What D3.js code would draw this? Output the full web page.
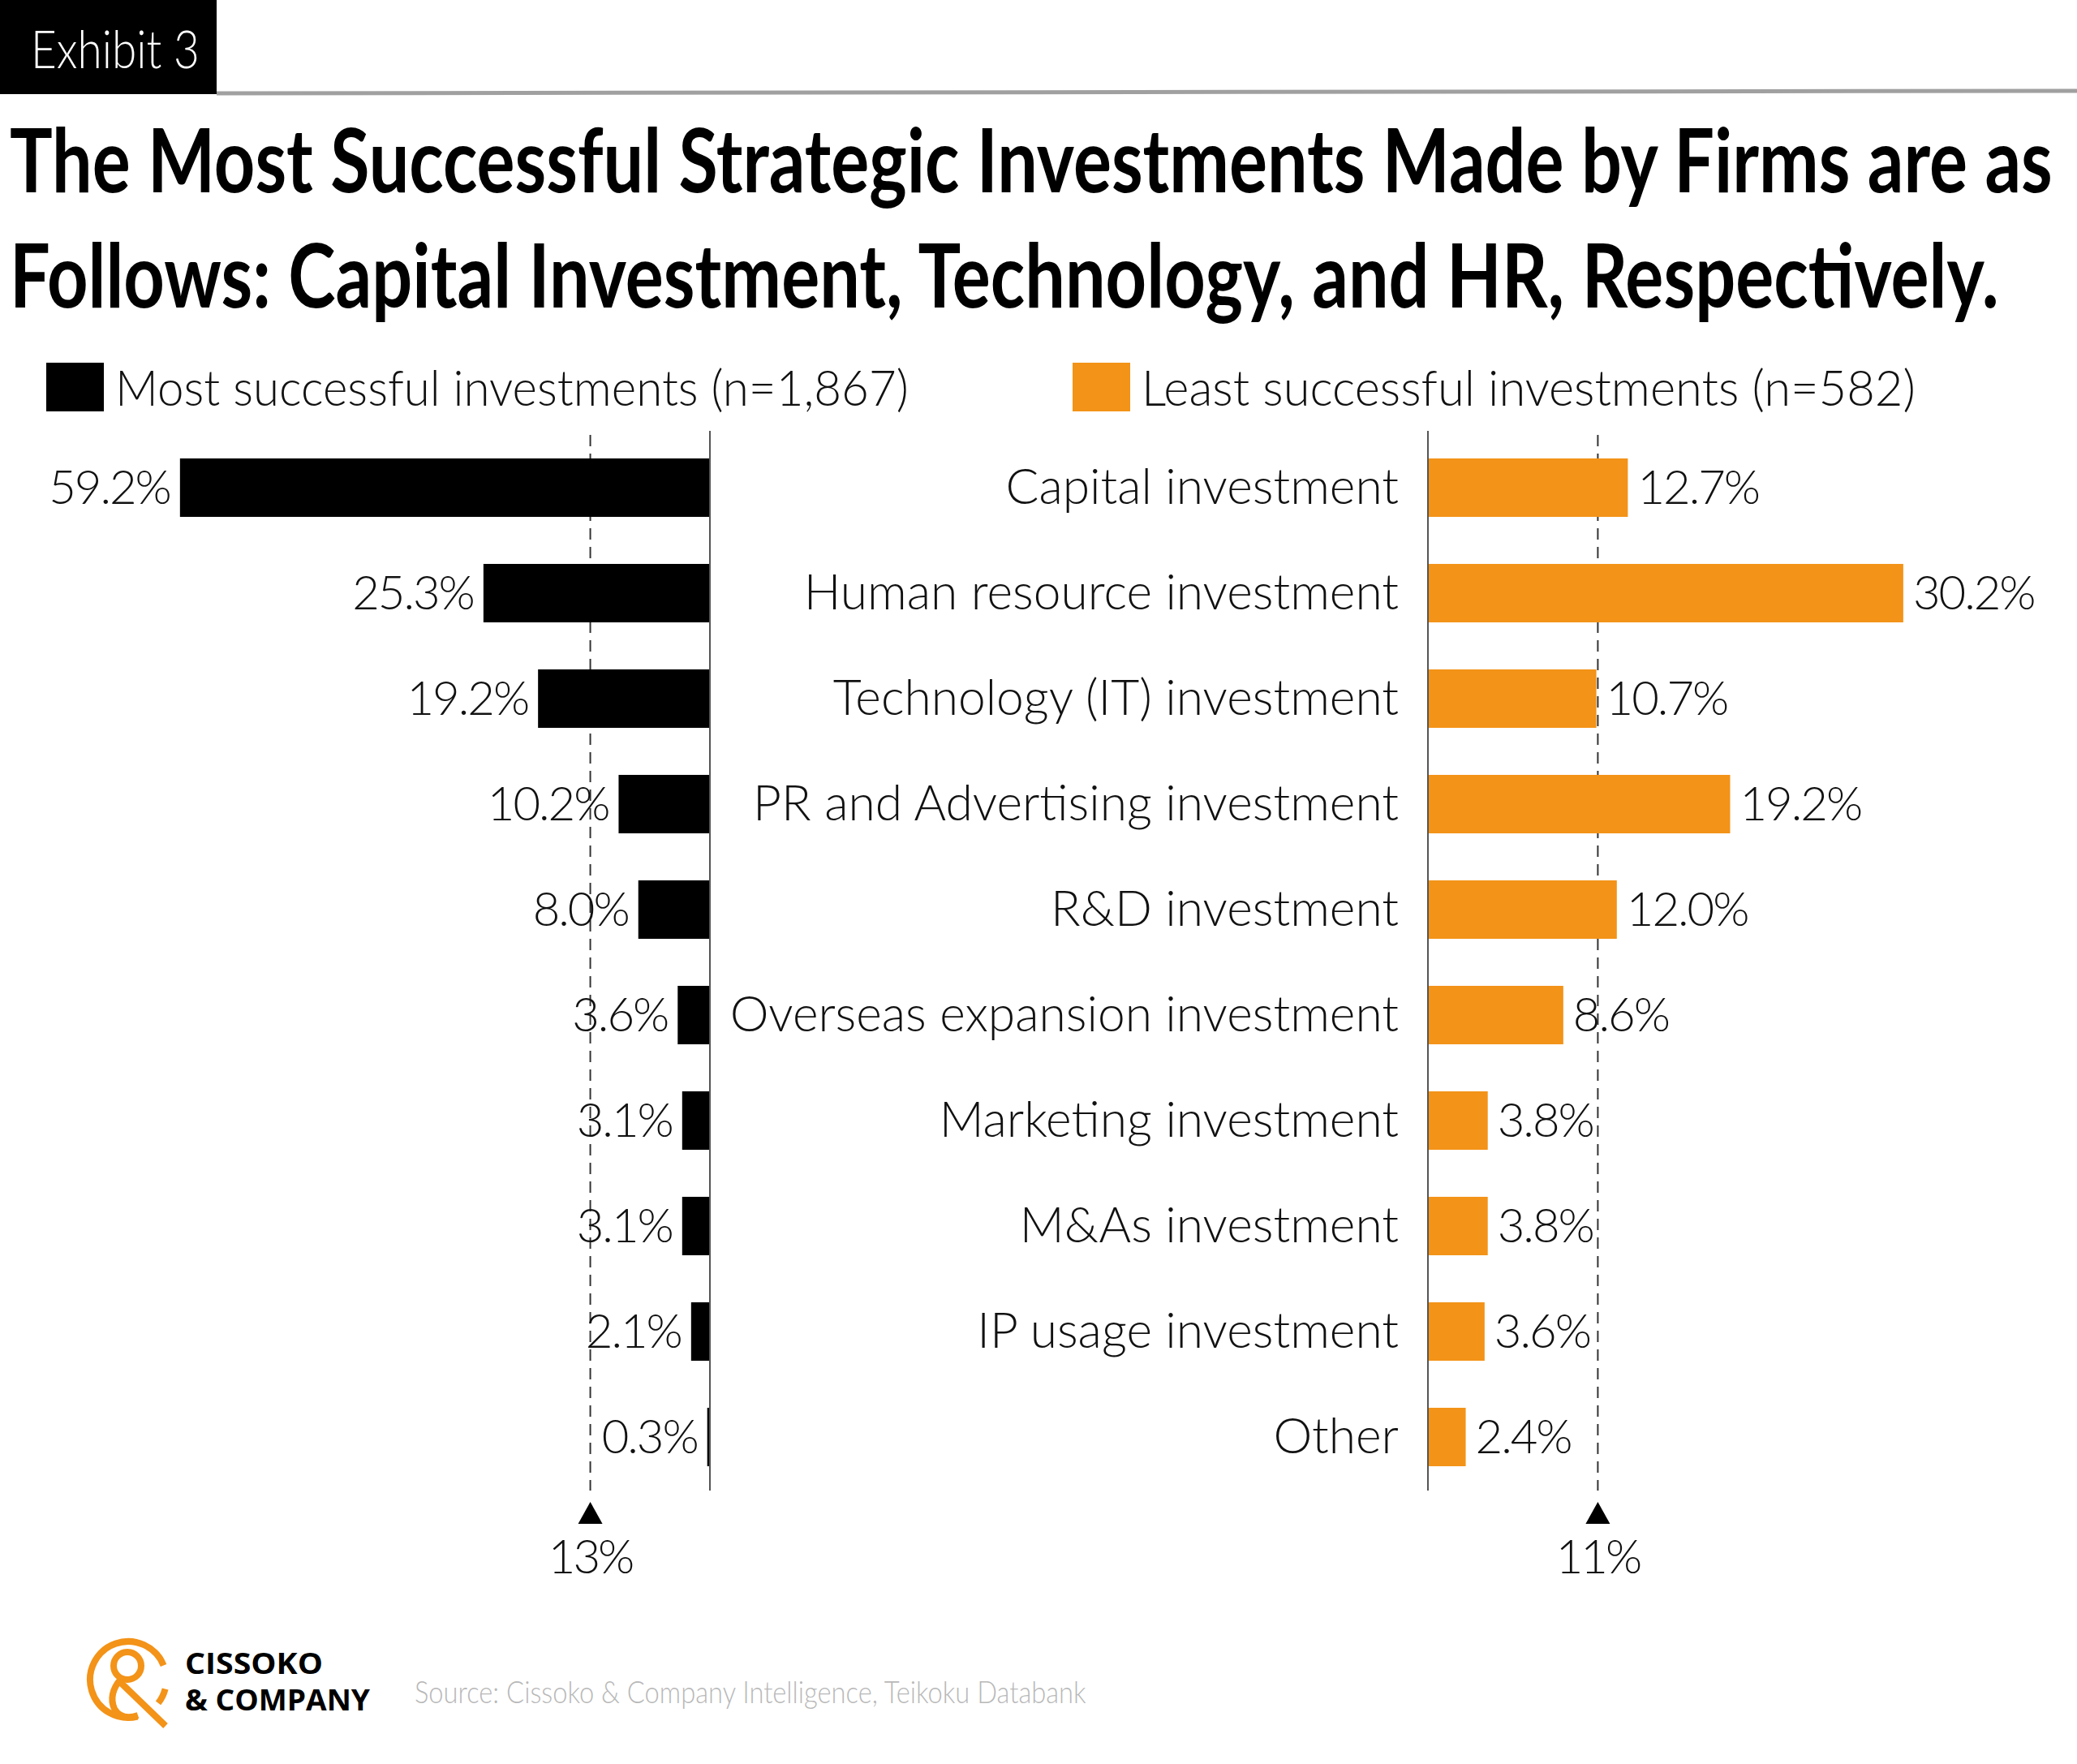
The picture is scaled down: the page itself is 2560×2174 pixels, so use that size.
<!DOCTYPE html>
<html>
<head>
<meta charset="utf-8">
<script src="https://cdn.jsdelivr.net/npm/d3@7"></script>
<style>
  html, body { margin: 0; padding: 0; background: #fff; }
  svg { display: block; }
</style>
</head>
<body>
<div id="chart"></div>
<script>
var w = 2560, h = 2174;

var categories = ["Capital investment", "Human resource investment", "Technology (IT) investment",
    "PR and Advertising investment", "R&D investment", "Overseas expansion investment",
    "Marketing investment", "M&As investment", "IP usage investment", "Other"];
var mostValues = [59.2, 25.3, 19.2, 10.2, 8.0, 3.6, 3.1, 3.1, 2.1, 0.3];
var leastValues = [12.7, 30.2, 10.7, 19.2, 12.0, 8.6, 3.8, 3.8, 3.6, 2.4];
var averages = [13, 11];
var seriesNames = ["Most successful investments (n=1,867)", "Least successful investments (n=582)"];

var orange = "#F39318";
var light = "Lato, 'Open Sans', sans-serif";

var svg = d3.select("#chart").append("svg").attr("width", w).attr("height", h);

// squeeze a text horizontally to a given width, anchored at x
function fitWidth(t, x, width) {
    var natural = t.node().getComputedTextLength();
    var k = width / natural;
    t.attr("x", 0).attr("transform", "translate(" + x + ",0) scale(" + k + ",1)");
}

// header
svg.append("rect").attr("x", 0).attr("y", 0).attr("width", 267).attr("height", 116).attr("fill", "#000");
var ex = svg.append("text").attr("y", 84).attr("fill", "#fff")
    .attr("font-family", light).attr("font-weight", 300).attr("font-size", 66).text("Exhibit 3");
fitWidth(ex, 38, 208);
svg.append("line").attr("x1", 267).attr("x2", w).attr("y1", 115).attr("y2", 112)
    .attr("stroke", "#a0a0a0").attr("stroke-width", 5);

var titleLines = ["The Most Successful Strategic Investments Made by Firms are as",
    "Follows: Capital Investment, Technology, and HR, Respectively."];
var titleWidths = [2518, 2452];
titleLines.forEach(function (t, i) {
    var tt = svg.append("text").attr("y", 237 + i * 142)
        .attr("font-family", "Lato, 'Open Sans', sans-serif").attr("font-weight", 700)
        .attr("font-size", 110).attr("fill", "#000").text(t);
    fitWidth(tt, 12, titleWidths[i]);
});

// legend
var legend = [{x: 57, color: "#000", name: seriesNames[0], tw: 978}, {x: 1322, color: orange, name: seriesNames[1], tw: 954}];
legend.forEach(function (d) {
    svg.append("rect").attr("x", d.x).attr("y", 447).attr("width", 71).attr("height", 60).attr("fill", d.color);
    var lt = svg.append("text").attr("y", 500).attr("font-family", light).attr("font-weight", 300)
        .attr("font-size", 62).attr("fill", "#111").text(d.name);
    fitWidth(lt, d.x + 85, d.tw);
});

// scales
var y = d3.scaleBand().domain(categories).range([536, 1836]).paddingInner(0.446).paddingOuter(0.223);
var xL = d3.scaleLinear().domain([0, 60]).range([875, 875 - 662]);
var xR = d3.scaleLinear().domain([0, 30]).range([1760, 1760 + 582]);

var fs = 58;

// average dashed lines
[[xL, averages[0]], [xR, averages[1]]].forEach(function (p) {
    var x = p[0](p[1]) - 4;
    svg.append("line").attr("x1", x).attr("x2", x).attr("y1", 536).attr("y2", 1837)
        .attr("stroke", "#333").attr("stroke-width", 2).attr("stroke-dasharray", "14,9");
    svg.append("path").attr("d", "M" + x + " 1851 L" + (x + 15) + " 1878 L" + (x - 15) + " 1878 Z").attr("fill", "#000");
    svg.append("text").attr("x", x).attr("y", 1939).attr("text-anchor", "middle")
        .attr("font-family", light).attr("font-weight", 300).attr("font-size", fs).attr("fill", "#111")
        .attr("letter-spacing", -3)
        .text(p[1] + "%");
});

// bars left
svg.selectAll(".barL").data(mostValues).enter().append("rect").attr("class", "barL")
    .attr("x", function (d) { return xL(d); })
    .attr("y", function (d, i) { return y(categories[i]); })
    .attr("width", function (d) { return xL(0) - xL(d); })
    .attr("height", y.bandwidth()).attr("fill", "#000");

svg.selectAll(".valL").data(mostValues).enter().append("text").attr("class", "valL")
    .attr("x", function (d) { return xL(d) - 12; })
    .attr("y", function (d, i) { return y(categories[i]) + y.bandwidth() / 2 + 20; })
    .attr("text-anchor", "end").attr("font-family", light).attr("font-weight", 300)
    .attr("font-size", fs).attr("fill", "#111").attr("letter-spacing", -2)
    .text(function (d) { return d.toFixed(1) + "%"; });

// bars right
svg.selectAll(".barR").data(leastValues).enter().append("rect").attr("class", "barR")
    .attr("x", xR(0))
    .attr("y", function (d, i) { return y(categories[i]); })
    .attr("width", function (d) { return xR(d) - xR(0); })
    .attr("height", y.bandwidth()).attr("fill", orange);

svg.selectAll(".valR").data(leastValues).enter().append("text").attr("class", "valR")
    .attr("x", function (d) { return xR(d) + 12; })
    .attr("y", function (d, i) { return y(categories[i]) + y.bandwidth() / 2 + 20; })
    .attr("font-family", light).attr("font-weight", 300)
    .attr("font-size", fs).attr("fill", "#111").attr("letter-spacing", -2)
    .text(function (d) { return d.toFixed(1) + "%"; });

// category labels
svg.selectAll(".cat").data(categories).enter().append("text").attr("class", "cat")
    .attr("x", 1724)
    .attr("y", function (d) { return y(d) + y.bandwidth() / 2 + 20; })
    .attr("text-anchor", "end").attr("font-family", light).attr("font-weight", 300)
    .attr("font-size", 60.5).attr("fill", "#111")
    .text(function (d) { return d; });

// axis lines
svg.append("line").attr("x1", xL(0)).attr("x2", xL(0)).attr("y1", 531).attr("y2", 1837).attr("stroke", "#555").attr("stroke-width", 2);
svg.append("line").attr("x1", xR(0)).attr("x2", xR(0)).attr("y1", 531).attr("y2", 1837).attr("stroke", "#555").attr("stroke-width", 2);

// footer logo
var logo = svg.append("g").attr("fill", "none").attr("stroke", orange).attr("stroke-width", 8).attr("stroke-linecap", "butt");
var arcPt = function (deg, r) {
    var a = deg * Math.PI / 180;
    return (158 + r * Math.cos(a)).toFixed(1) + " " + (2070 + r * Math.sin(a)).toFixed(1);
};
logo.append("path").attr("d", "M" + arcPt(-22, 47) + " A47 47 0 1 0 " + arcPt(76, 47));
logo.append("path").attr("d", "M" + arcPt(14, 47) + " A47 47 0 0 1 " + arcPt(38, 47));
logo.append("circle").attr("cx", 157).attr("cy", 2053).attr("r", 17);
logo.append("path").attr("d", "M149 2069 Q133 2088 141 2106 Q150 2121 170 2114");
logo.append("path").attr("d", "M147 2072 L204 2127");
var c1 = svg.append("text").attr("y", 2063).attr("font-family", "'Open Sans', sans-serif").attr("font-weight", 700)
    .attr("font-size", 35).attr("fill", "#000").text("CISSOKO");
fitWidth(c1, 228, 170);
var c2 = svg.append("text").attr("y", 2108).attr("font-family", "'Open Sans', sans-serif").attr("font-weight", 700)
    .attr("font-size", 35).attr("fill", "#000").text("& COMPANY");
fitWidth(c2, 228, 228);
var src = svg.append("text").attr("y", 2099).attr("font-family", light).attr("font-weight", 300)
    .attr("font-size", 38).attr("fill", "#b8b8b8")
    .text("Source: Cissoko & Company Intelligence, Teikoku Databank");
fitWidth(src, 511, 828);
</script>
</body>
</html>
